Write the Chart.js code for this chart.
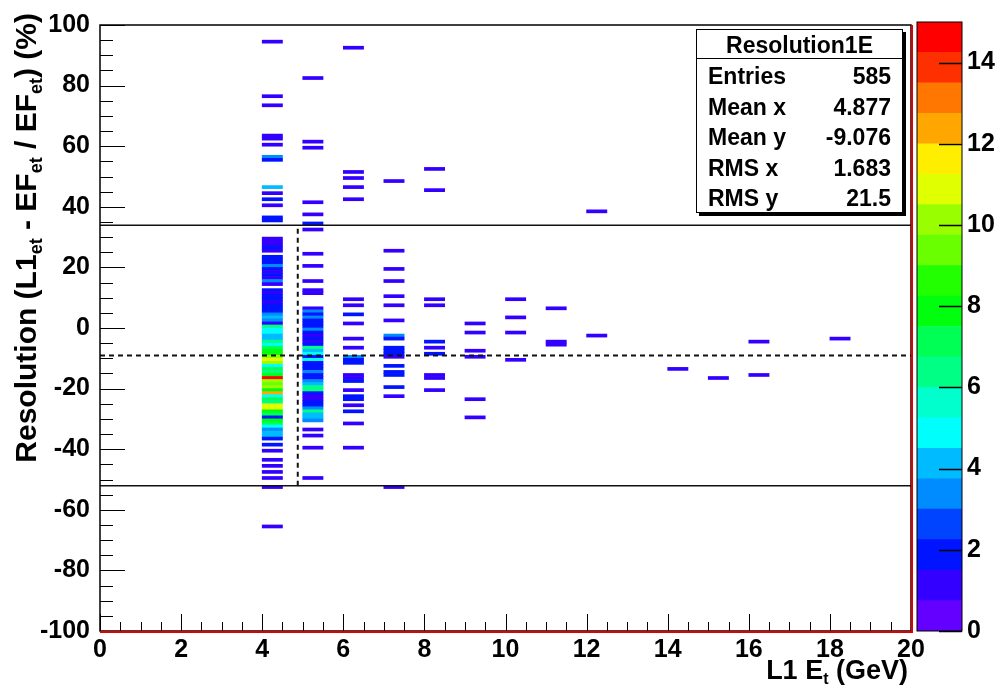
<!DOCTYPE html>
<html>
<head>
<meta charset="utf-8">
<script src="https://cdn.jsdelivr.net/npm/chart.js@4.4.0/dist/chart.umd.min.js"></script>
<style>
  html, body { margin: 0; padding: 0; background: #fff; }
  #wrap { position: relative; width: 1000px; height: 694px; overflow: hidden;
          font-family: "Liberation Sans", Arial, sans-serif; font-weight: bold; color: #000; }
  #main { position: absolute; left: 0; top: 0; }
  #pal { position: absolute; left: 905px; top: 0; }
  .stats { position: absolute; left: 696px; top: 29px; width: 205px; height: 182px;
           border: 1.5px solid #000; box-shadow: 3px 3px 0 #000; background: #fff; font-size: 23px; }
  .stats .title { position: absolute; left: 0; right: 0; top: 0; height: 28px; line-height: 30px;
                  text-align: center; border-bottom: 1.5px solid #000; }
  .stats .row { position: absolute; left: 11px; right: 11px; height: 30px; line-height: 30px; }
  .stats .row span:last-child { position: absolute; right: 0; }
  #xtitle { position: absolute; right: 92px; top: 656px; font-size: 27px; line-height: 28px; white-space: nowrap; }
  #xtitle sub { font-size: 16px; vertical-align: -5px; }
  #ytitle { position: absolute; left: 0; top: 0; width: 460px; text-align: right; font-size: 30px;
            line-height: 34px; white-space: nowrap; transform-origin: 0 0;
            transform: translate(9px, 473px) rotate(-90deg); }
  #ytitle sub { font-size: 18px; vertical-align: -6px; }
</style>
</head>
<body>
<div id="wrap">
  <canvas id="main" width="1000" height="694"></canvas>
  <canvas id="pal" width="95" height="694"></canvas>
  <div class="stats" id="stats"></div>
  <div id="xtitle">L1 E<sub>t</sub> (GeV)</div>
  <div id="ytitle">Resolution (L1<sub>et</sub> - EF<sub>et</sub> / EF<sub>et</sub>) (%)</div>
</div>
<script>
"use strict";

// histogram stats (as printed in the box)
const HIST_NAME = "Resolution1E";
const ENTRIES = 585;
const MEAN_X = 4.877;
const MEAN_Y = -9.076;
const RMS_X = 1.683;
const RMS_Y = 21.5;

// z palette: 0..15 in 20 levels, ROOT pretty palette (50 colours)
const Z_MAX = 15;
const N_LEVELS = 20;
const N_PAL = 50;
const Z_TICKS = [0, 2, 4, 6, 8, 10, 12, 14];

// x bins are 0.5 GeV wide, y bins 1 % tall
const X_BIN = 0.5;
const Y_BIN = 1;

// filled x bins (centre) and their cells: [y low edge, count]
const COL_X = [4.25, 5.25, 6.25, 7.25, 8.25, 9.25, 10.25, 11.25, 12.25, 14.25, 15.25, 16.25, 18.25];

const cells4 = [[94,1],[76,1],[73,1],[63,1],[62,1],[60,1],[56,3],[55,2],[46,4],[44,1],[42,2],[40,1],[36,2],[35,2],
  [29,1],[28,1],[27,1],[26,2],[25,1],[23,2],[22,2],[21,2],[20,3],[19,2],[18,1],[17,2],[16,1],[15,3],[14,1],
  [12,2],[11,1],[10,2],[9,2],[8,1],[7,2],[6,2],[5,2],[4,3],[3,4],[2,3],[1,1],
  [0,6],[-1,5],[-2,5],[-3,4],[-4,4],[-5,6],[-6,5],[-7,7],[-8,8],[-9,8],[-10,10],[-11,11],[-12,10],[-13,5],
  [-14,7],[-15,6],[-16,8],[-17,15],[-18,10],[-19,9],[-20,10],[-21,8],[-22,12],[-23,5],[-24,7],[-25,6],
  [-26,11],[-27,11],[-28,8],[-29,7],[-30,2],[-31,8],[-32,7],[-33,5],[-34,3],[-35,4],[-36,4],[-37,2],
  [-39,2],[-41,1],[-44,1],[-46,1],[-48,1],[-50,1],[-53,1],[-66,1]];
const cells5 = [[82,1],[61,1],[59,1],[41,1],[37,1],[34,2],[32,1],[24,1],[20,1],[15,1],[12,1],[11,1],[6,1],
  [5,3],[4,2],[3,3],[2,2],[1,2],[0,2],[-1,3],[-2,2],[-3,1],[-4,2],[-5,1],[-6,2],[-7,6],[-8,4],[-9,5],
  [-10,2],[-11,5],[-12,2],[-13,2],[-14,2],[-15,3],[-16,2],[-17,2],[-18,3],[-19,4],[-20,6],[-21,6],[-22,2],
  [-23,1],[-24,1],[-25,2],[-26,2],[-27,3],[-28,6],[-29,4],[-30,4],[-31,3],
  [-34,1],[-36,1],[-40,1],[-50,1]];
const cells6 = [[92,1],[51,1],[49,1],[46,1],[42,1],[9,1],[7,1],[4,2],[1,1],[-4,1],[-7,1],[-10,3],[-11,2],[-12,2],
  [-16,1],[-17,1],[-18,2],[-21,1],[-23,2],[-24,2],[-26,1],[-28,2],[-32,1],[-40,1]];
const cells7 = [[48,1],[25,1],[19,1],[15,1],[10,1],[7,1],[2,1],[-3,3],[-4,2],[-7,2],[-8,2],[-9,2],[-10,1],
  [-13,2],[-15,2],[-16,2],[-20,2],[-23,1],[-53,1]];
const cells8 = [[52,1],[45,1],[9,1],[7,1],[-5,2],[-7,1],[-9,2],[-16,1],[-17,1],[-21,1]];
const cells9 = [[1,1],[-2,1],[-8,1],[-10,1],[-24,1],[-30,1]];
const cells10 = [[9,1],[3,1],[-2,1],[-11,1]];
const cells11 = [[6,1],[-5,1],[-6,1]];
const cells12 = [[38,1],[-3,1]];
const cells14 = [[-14,1]];
const cells15 = [[-17,1]];
const cells16 = [[-5,1],[-16,1]];
const cells18 = [[-4,1]];
const COLUMNS = [cells4, cells5, cells6, cells7, cells8, cells9, cells10, cells11, cells12, cells14, cells15, cells16, cells18];

const FONT = { family: "'Liberation Sans', Arial, sans-serif", weight: "bold", size: 25 };

function levelColor(j) {
  const idx = Math.floor((j + 0.99) * N_PAL / N_LEVELS);
  const hue = 280 - (idx + 1) * 280 / N_PAL;
  return "hsl(" + hue + ",100%,50%)";
}
function zColor(n) {
  const j = Math.min(Math.floor(n / (Z_MAX / N_LEVELS)), N_LEVELS - 1);
  return levelColor(j);
}

// bar points
let cellData = [];
COLUMNS.forEach((cells, i) => {
  cells.forEach((c) => {
    cellData.push({ x: COL_X[i], y: [c[0], c[0] + Y_BIN], v: c[1] });
  });
});

// frame + inward ROOT-style ticks
const rootFrame = {
  id: "rootFrame",
  afterDraw(chart) {
    const ctx = chart.ctx;
    const a = chart.chartArea;
    const x = chart.scales.x, y = chart.scales.y;
    ctx.save();
    ctx.strokeStyle = "#000";
    ctx.lineWidth = 1;
    ctx.beginPath();
    x.ticks.forEach((t) => {
      const px = Math.round(x.getPixelForValue(t.value)) + 0.5;
      const len = t.value % 2 === 0 ? 17 : 9;
      ctx.moveTo(px, a.bottom);
      ctx.lineTo(px, a.bottom - len);
    });
    y.ticks.forEach((t) => {
      const py = Math.round(y.getPixelForValue(t.value)) + 0.5;
      const len = t.value % 20 === 0 ? 25 : 13;
      ctx.moveTo(a.left, py);
      ctx.lineTo(a.left + len, py);
    });
    ctx.stroke();
    ctx.lineWidth = 1.5;
    ctx.strokeRect(a.left, a.top, a.right - a.left, a.bottom - a.top);
    ctx.strokeStyle = "#e00000";
    ctx.lineWidth = 2;
    ctx.beginPath();
    ctx.moveTo(a.left, a.bottom + 1);
    ctx.lineTo(a.right + 1, a.bottom + 1);
    ctx.lineTo(a.right + 1, a.top);
    ctx.stroke();
    ctx.restore();
  }
};

function hLine(yv, dash, width) {
  return { type: "line", data: [{ x: 0, y: yv }, { x: 20, y: yv }], borderColor: "#111",
    borderWidth: width, borderDash: dash, pointRadius: 0, order: 0 };
}

new Chart(document.getElementById("main"), {
  type: "bar",
  data: {
    datasets: [
      hLine(MEAN_Y, [5, 4], 2),
      hLine(MEAN_Y + 2 * RMS_Y, [], 1.5),
      hLine(MEAN_Y - 2 * RMS_Y, [], 1.5),
      { type: "line", data: [{ x: MEAN_X, y: MEAN_Y - 2 * RMS_Y }, { x: MEAN_X, y: MEAN_Y + 2 * RMS_Y }],
        borderColor: "#111", borderWidth: 2, borderDash: [5, 4], pointRadius: 0, order: 0 },
      { type: "bar", data: cellData, order: 1, grouped: false,
        barPercentage: 1, categoryPercentage: 1, borderWidth: 0,
        backgroundColor: (ctx) => zColor(ctx.raw.v) }
    ]
  },
  options: {
    responsive: false,
    animation: false,
    events: [],
    plugins: { legend: { display: false }, tooltip: { enabled: false } },
    layout: { padding: { top: 22, right: 89, left: 0, bottom: 0 } },
    scales: {
      x: {
        type: "linear", min: 0, max: 20, offset: false,
        grid: { display: false, drawTicks: false, offset: false },
        border: { display: false },
        ticks: { stepSize: X_BIN, autoSkip: false, maxRotation: 0, padding: 4, color: "#000", font: FONT,
          callback: (v) => (v % 2 === 0 ? String(v) : "") },
        afterFit: (s) => { s.height = 63; }
      },
      y: {
        type: "linear", min: -100, max: 100,
        grid: { display: false, drawTicks: false },
        border: { display: false },
        ticks: { stepSize: 5, autoSkip: false, padding: 10, color: "#000", font: FONT,
          callback: (v) => (v % 20 === 0 ? String(v) : "") },
        afterFit: (s) => { s.width = 100; }
      }
    }
  },
  plugins: [rootFrame]
});

// colour palette axis
const palFrame = {
  id: "palFrame",
  afterDraw(chart) {
    const ctx = chart.ctx;
    const a = chart.chartArea;
    const y = chart.scales.y;
    ctx.save();
    ctx.strokeStyle = "#000";
    ctx.lineWidth = 1.5;
    ctx.beginPath();
    y.ticks.forEach((t) => {
      const py = Math.round(y.getPixelForValue(t.value)) + 0.5;
      ctx.moveTo(a.right - 23, py);
      ctx.lineTo(a.right, py);
    });
    ctx.stroke();
    ctx.lineWidth = 1;
    ctx.strokeRect(a.left, a.top, a.right - a.left, a.bottom - a.top);
    ctx.restore();
  }
};

const palSets = [];
for (let j = 0; j < N_LEVELS; j++) {
  const lo = j * Z_MAX / N_LEVELS;
  palSets.push({ data: [[lo, lo + Z_MAX / N_LEVELS]], backgroundColor: levelColor(j),
    borderWidth: 0, grouped: false, barPercentage: 1, categoryPercentage: 1 });
}

new Chart(document.getElementById("pal"), {
  type: "bar",
  data: { labels: [""], datasets: palSets },
  options: {
    responsive: false,
    animation: false,
    events: [],
    plugins: { legend: { display: false }, tooltip: { enabled: false } },
    layout: { padding: { top: 22, right: 0, left: 12, bottom: 63 } },
    scales: {
      x: { display: false },
      y: {
        position: "right", min: 0, max: Z_MAX,
        grid: { display: false, drawTicks: false },
        border: { display: false },
        ticks: { stepSize: 2, padding: 5, color: "#000", font: FONT },
        afterBuildTicks: (s) => { s.ticks = Z_TICKS.map((v) => ({ value: v })); },
        afterFit: (s) => { s.width = 38; }
      }
    }
  },
  plugins: [palFrame]
});

// stats box
const statRows = [["Entries", String(ENTRIES)], ["Mean x", MEAN_X.toFixed(3)], ["Mean y", MEAN_Y.toFixed(3)],
  ["RMS x", RMS_X.toFixed(3)], ["RMS y", String(RMS_Y)]];
const box = document.getElementById("stats");
let html = '<div class="title">' + HIST_NAME + "</div>";
statRows.forEach((r, i) => {
  html += '<div class="row" style="top:' + (31 + i * 30.5) + 'px"><span>' + r[0] + "</span><span>" + r[1] + "</span></div>";
});
box.innerHTML = html;
</script>
</body>
</html>
